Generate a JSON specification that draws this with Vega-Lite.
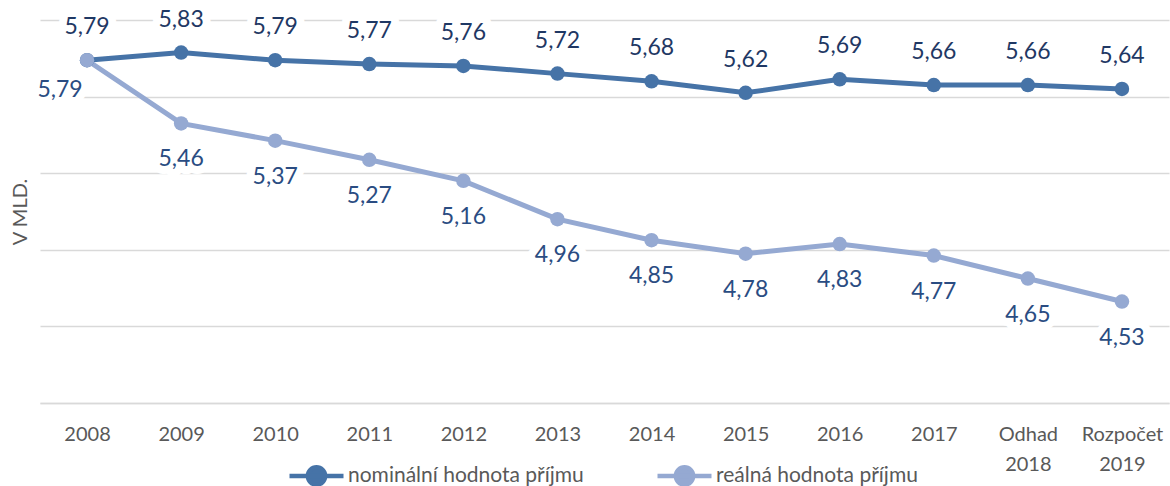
{
  "$schema": "https://vega.github.io/schema/vega-lite/v6.json",
  "width": 1129,
  "height": 383,
  "autosize": {"type": "none"},
  "padding": {"left": 40, "top": 20, "right": 1, "bottom": 83},
  "config": {
    "locale": {"number": {"decimal": ",", "thousands": " ", "grouping": [3], "currency": ["", " Kč"]}},
    "view": {"stroke": null},
    "font": "Lato"
  },
  "data": {
    "values": [
      {"year": "2008", "series": "nominální hodnota příjmu", "value": 5.79},
      {"year": "2009", "series": "nominální hodnota příjmu", "value": 5.83},
      {"year": "2010", "series": "nominální hodnota příjmu", "value": 5.79},
      {"year": "2011", "series": "nominální hodnota příjmu", "value": 5.77},
      {"year": "2012", "series": "nominální hodnota příjmu", "value": 5.76},
      {"year": "2013", "series": "nominální hodnota příjmu", "value": 5.72},
      {"year": "2014", "series": "nominální hodnota příjmu", "value": 5.68},
      {"year": "2015", "series": "nominální hodnota příjmu", "value": 5.62},
      {"year": "2016", "series": "nominální hodnota příjmu", "value": 5.69},
      {"year": "2017", "series": "nominální hodnota příjmu", "value": 5.66},
      {"year": "Odhad 2018", "series": "nominální hodnota příjmu", "value": 5.66},
      {"year": "Rozpočet 2019", "series": "nominální hodnota příjmu", "value": 5.64},
      {"year": "2008", "series": "reálná hodnota příjmu", "value": 5.79},
      {"year": "2009", "series": "reálná hodnota příjmu", "value": 5.46},
      {"year": "2010", "series": "reálná hodnota příjmu", "value": 5.37},
      {"year": "2011", "series": "reálná hodnota příjmu", "value": 5.27},
      {"year": "2012", "series": "reálná hodnota příjmu", "value": 5.16},
      {"year": "2013", "series": "reálná hodnota příjmu", "value": 4.96},
      {"year": "2014", "series": "reálná hodnota příjmu", "value": 4.85},
      {"year": "2015", "series": "reálná hodnota příjmu", "value": 4.78},
      {"year": "2016", "series": "reálná hodnota příjmu", "value": 4.83},
      {"year": "2017", "series": "reálná hodnota příjmu", "value": 4.77},
      {"year": "Odhad 2018", "series": "reálná hodnota příjmu", "value": 4.65},
      {"year": "Rozpočet 2019", "series": "reálná hodnota příjmu", "value": 4.53}
    ]
  },
  "encoding": {
    "x": {
      "field": "year",
      "type": "ordinal",
      "sort": null,
      "scale": {"type": "point", "padding": 0.5},
      "axis": {
        "title": null,
        "labelAngle": 0,
        "labelExpr": "split(datum.label, ' ')",
        "labelColor": "#595959",
        "labelFontSize": 20,
        "labelPadding": 21,
        "labelLineHeight": 30,
        "ticks": false,
        "grid": false,
        "domain": true,
        "domainColor": "#d9d9d9",
        "domainWidth": 1.5
      }
    },
    "y": {
      "field": "value",
      "type": "quantitative",
      "scale": {"domain": [4, 6], "nice": false, "zero": false},
      "axis": {
        "title": "V MLD.",
        "titleColor": "#595959",
        "titleFontSize": 20,
        "titleFontWeight": "normal",
        "titlePadding": 10,
        "labels": false,
        "ticks": false,
        "domain": false,
        "grid": true,
        "gridColor": "#d9d9d9",
        "gridWidth": 1.5,
        "values": [4, 4.4, 4.8, 5.2, 5.6, 6]
      }
    }
  },
  "layer": [
    {
      "transform": [{"filter": "datum.series === 'nominální hodnota příjmu'"}],
      "mark": {"type": "text", "dy": -33, "fontSize": 23, "fill": "white", "stroke": "white", "strokeWidth": 16, "strokeJoin": "round"},
      "encoding": {"text": {"field": "value", "type": "quantitative", "format": ".2f"}}
    },
    {
      "transform": [{"filter": "datum.series === 'reálná hodnota příjmu' && datum.year !== '2008'"}],
      "mark": {"type": "text", "dy": 36, "fontSize": 23, "fill": "white", "stroke": "white", "strokeWidth": 16, "strokeJoin": "round"},
      "encoding": {"text": {"field": "value", "type": "quantitative", "format": ".2f"}}
    },
    {
      "transform": [{"filter": "datum.series === 'reálná hodnota příjmu' && datum.year === '2008'"}],
      "mark": {"type": "text", "dx": -27, "dy": 30, "fontSize": 23, "fill": "white", "stroke": "white", "strokeWidth": 16, "strokeJoin": "round"},
      "encoding": {"text": {"field": "value", "type": "quantitative", "format": ".2f"}}
    },
    {
      "mark": {"type": "line", "strokeWidth": 5},
      "encoding": {
        "color": {
          "field": "series",
          "type": "nominal",
          "scale": {"domain": ["nominální hodnota příjmu", "reálná hodnota příjmu"], "range": ["#4673A7", "#95A9D2"]},
          "legend": {
            "title": null,
            "orient": "none",
            "legendX": 247,
            "legendY": 426,
            "direction": "horizontal",
            "labelColor": "#595959",
            "labelFontSize": 21,
            "labelOffset": 2,
            "labelLimit": 500,
            "columnPadding": 64,
            "symbolType": "M-1,0L1,0M-0.32,0A0.32,0.32 0 1 1 0.32,0A0.32,0.32 0 1 1 -0.32,0Z",
            "symbolSize": 2916,
            "symbolStrokeWidth": 4.5,
            "encode": {
              "symbols": {
                "update": {
                  "fill": {"scale": "color", "field": "value"},
                  "stroke": {"scale": "color", "field": "value"},
                  "strokeWidth": {"value": 4.5},
                  "opacity": {"value": 1}
                }
              }
            }
          }
        }
      }
    },
    {
      "mark": {"type": "point", "filled": true, "size": 210, "opacity": 1},
      "encoding": {
        "color": {"field": "series", "type": "nominal", "legend": null}
      }
    },
    {
      "transform": [{"filter": "datum.series === 'nominální hodnota příjmu'"}],
      "mark": {"type": "text", "dy": -33, "fontSize": 23, "color": "#1F3864"},
      "encoding": {"text": {"field": "value", "type": "quantitative", "format": ".2f"}}
    },
    {
      "transform": [{"filter": "datum.series === 'reálná hodnota příjmu' && datum.year !== '2008'"}],
      "mark": {"type": "text", "dy": 36, "fontSize": 23, "color": "#2A4C82"},
      "encoding": {"text": {"field": "value", "type": "quantitative", "format": ".2f"}}
    },
    {
      "transform": [{"filter": "datum.series === 'reálná hodnota příjmu' && datum.year === '2008'"}],
      "mark": {"type": "text", "dx": -27, "dy": 30, "fontSize": 23, "color": "#2A4C82"},
      "encoding": {"text": {"field": "value", "type": "quantitative", "format": ".2f"}}
    }
  ]
}
